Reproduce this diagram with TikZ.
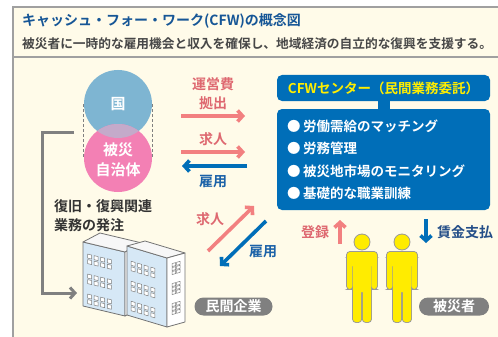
\documentclass[tikz,border=0pt]{standalone}
\usepackage{fontspec}
\setmainfont{Noto Sans CJK JP}[BoldFont={Noto Sans CJK JP Bold}]
\usetikzlibrary{arrows.meta,positioning}

\definecolor{cream}{RGB}{255,251,233}
\definecolor{framegray}{RGB}{160,160,160}
\definecolor{titleblue}{RGB}{22,86,150}
\definecolor{govblue}{RGB}{126,181,210}
\definecolor{prefpink}{RGB}{243,128,180}
\definecolor{lavender}{RGB}{196,170,202}
\definecolor{flowpink}{RGB}{242,128,128}
\definecolor{wordpink}{RGB}{222,104,112}
\definecolor{cfwblue}{RGB}{0,110,184}
\definecolor{wordblue}{RGB}{28,98,168}
\definecolor{navy}{RGB}{36,78,136}
\definecolor{cfwyellow}{RGB}{255,238,0}
\definecolor{pillgray}{RGB}{128,128,128}
\definecolor{personyellow}{RGB}{255,236,0}
\definecolor{glassblue}{RGB}{214,232,246}

% body of one standing figure, head centre at the origin
\newcommand{\victimbody}{(0,0) circle[radius=7.5pt]
  [rounded corners=3pt] (-15,10) rectangle (15,24)
  (-15,16) rectangle (-9.6,47) (9.6,16) rectangle (15,47)
  (-9,16) rectangle (9,50)
  (-9,40) rectangle (-0.8,80) (0.8,40) rectangle (9,80)}

\begin{document}
\begin{tikzpicture}[x=1pt,y=-1pt,
  every node/.style={inner sep=0pt},
  >={Straight Barb[length=5pt,width=11pt]},
  frame/.style={draw=framegray,line width=1.5pt},
  guide/.style={draw=gray,dashed,line width=0.9pt,dash pattern=on 3pt off 2pt},
  pinkflow/.style={draw=flowpink,line width=3.6pt,->},
  blueflow/.style={draw=cfwblue,line width=3.6pt,->},
  orderline/.style={draw=pillgray,line width=3pt,->},
  pinkword/.style={text=wordpink,font=\fontsize{14}{18}\selectfont\bfseries},
  blueword/.style={text=wordblue,font=\fontsize{14}{18}\selectfont\bfseries},
  whiteword/.style={text=white,font=\fontsize{15}{20}\selectfont\bfseries},
  taskword/.style={text=white,font=\fontsize{13.5}{18}\selectfont\bfseries},
  pill/.style={fill=pillgray,rounded corners=9pt,minimum height=18pt,text=white,
    font=\fontsize{14}{18}\selectfont\bfseries},
  face/.style={draw=black!55,line width=0.8pt,line join=round},
  window/.style={draw=black!50,fill=white,line width=0.5pt},
  victim/.pic={
    \draw[draw=black!40,line width=1.8pt] \victimbody;
    \fill[personyellow] \victimbody;
  }]
\useasboundingbox (0,0) rectangle (498,337);
\clip (0,0) rectangle (498,337);

% panel
\fill[cream] (13,7) rectangle (505,345);
\draw[frame] (505,7) -- (13,7) -- (13,345);
\draw[frame] (13,57) -- (505,57);
\node[anchor=west,text=titleblue,font=\fontsize{14}{18}\selectfont\bfseries] (title) at (22,21)
  {キャッシュ・フォー・ワーク(CFW)の概念図};
\node[anchor=west,text=black!72,font=\fontsize{12.7}{16}\selectfont\bfseries] (subtitle) at (22,44)
  {被災者に一時的な雇用機会と収入を確保し、地域経済の自立的な復興を支援する。};

% state and local government
\node[circle,minimum size=68pt,fill=govblue,whiteword] (gov) at (118,104) {国};
\node[circle,minimum size=68pt,fill=prefpink] (pref) at (118,158) {};
\begin{scope}
  \clip (gov.center) circle[radius=34pt];
  \fill[lavender] (pref.center) circle[radius=34pt];
\end{scope}
\node[whiteword,align=center] (preftxt) at (118,160) {被災\\自治体};
\draw[guide] (gov.west) -- (pref.west);
\draw[guide] (gov.east) -- (pref.east);

% ordering of reconstruction work
\coordinate (order) at (74,132);
\coordinate (works) at (77,293);
\draw[orderline] (order) -- ++(-32,0) |- (works);
\node[anchor=west,text=black!80,align=left,font=\fontsize{14}{19}\selectfont\bfseries] (orderlbl) at (54,215.5)
  {復旧・復興関連\\業務の発注};

% funding, job offers and hiring
\coordinate (fundA) at (181,116); \coordinate (fundB) at (245,116);
\coordinate (jobA) at (181,152);  \coordinate (jobB) at (245,152);
\coordinate (hireA) at (247,166); \coordinate (hireB) at (182,166);
\draw[pinkflow] (fundA) -- (fundB);
\draw[pinkflow] (jobA) -- (jobB);
\draw[blueflow] (hireA) -- (hireB);
\node[pinkword] (fundlbl) at (213,84) {運営費};
\node[pinkword] (fundlbl2) at (213,103) {拠出};
\node[pinkword] (joblbl) at (213,139) {求人};
\node[blueword] (hirelbl) at (213,182) {雇用};

% CFW centre
\node[fill=cfwblue,rounded corners=5pt,minimum width=213pt,minimum height=26pt,
  text=cfwyellow,font=\fontsize{13.5}{18}\selectfont\bfseries] (cfw) at (383.5,88)
  {CFWセンター（民間業務委託）};
\node[fill=cfwblue,rounded corners=5pt,minimum width=213pt,minimum height=101pt] (tasks) at (383.5,159.5) {};
\fill[cfwblue] ([xshift=-6pt]cfw.south) rectangle ([xshift=6pt]tasks.north);
\foreach \y/\t [count=\i] in {126/労働需給のマッチング,148.5/労務管理,171/被災地市場のモニタリング,193.5/基礎的な職業訓練}
  \node[taskword,anchor=west] (task\i) at (287,\y) {●\hspace{2.5pt}\t};

% private firms
\coordinate (fjobA) at (208,251);  \coordinate (fjobB) at (254,206);
\coordinate (fhireA) at (266,221); \coordinate (fhireB) at (220,266);
\draw[pinkflow] (fjobA) -- (fjobB);
\draw[blueflow] (fhireA) -- (fhireB);
\node[pinkword] (fjoblbl) at (210,219) {求人};
\node[blueword] (fhirelbl) at (263,252) {雇用};
\node[pill,minimum width=78pt] (firms) at (233.5,306.5) {民間企業};

% buildings
\filldraw[face,fill=glassblue] (83,242) -- (125,252) -- (125,316) -- (83,306) -- cycle;
\filldraw[face,fill=black!3] (83,242) -- (100,233) -- (142,243) -- (125,252) -- cycle;
\filldraw[face,fill=white] (125,252) -- (142,243) -- (142,307) -- (125,316) -- cycle;
\begin{scope}[shift={(83,242)},yslant=-0.238]
  \foreach \r in {0,1,2} \foreach \k in {0,1} \foreach \c in {0,...,3}
    \draw[window] (4.5+\c*6.6,11+\r*20+\k*5.5) rectangle ++(4,4);
\end{scope}
\filldraw[face,fill=glassblue] (127,246) -- (167,258) -- (167,327) -- (127,315) -- cycle;
\filldraw[face,fill=black!3] (127,246) -- (145,241) -- (185,253) -- (167,258) -- cycle;
\filldraw[face,fill=white] (167,258) -- (185,253) -- (185,322) -- (167,327) -- cycle;
\begin{scope}[shift={(127,246)},yslant=-0.3]
  \foreach \r in {0,1,2} \foreach \k in {0,1} \foreach \c in {0,...,3}
    \draw[window] (4+\c*6.6,14+\r*20+\k*5.5) rectangle ++(4,4);
\end{scope}
\begin{scope}[shift={(167,258)},yslant=0.28]
  \foreach \r in {0,1,2} \foreach \k in {0,1,2} \foreach \c in {0,1}
    \draw[window] (5+\c*4.5,7+\r*20+\k*4) rectangle ++(3.5,3);
\end{scope}

% registration and wages
\coordinate (regA) at (340,244); \coordinate (regB) at (340,220);
\coordinate (payA) at (426,219); \coordinate (payB) at (426,243);
\draw[pinkflow] (regA) -- (regB);
\draw[blueflow] (payA) -- (payB);
\node[pinkword] (reglbl) at (315,232) {登録};
\node[blueword,text=navy] (paylbl) at (465,232) {賃金支払};

% affected people
\pic at (362,242) {victim};
\pic at (402,242) {victim};
\node[pill,minimum width=70pt] (victims) at (454,306.5) {被災者};
\end{tikzpicture}
\end{document}
